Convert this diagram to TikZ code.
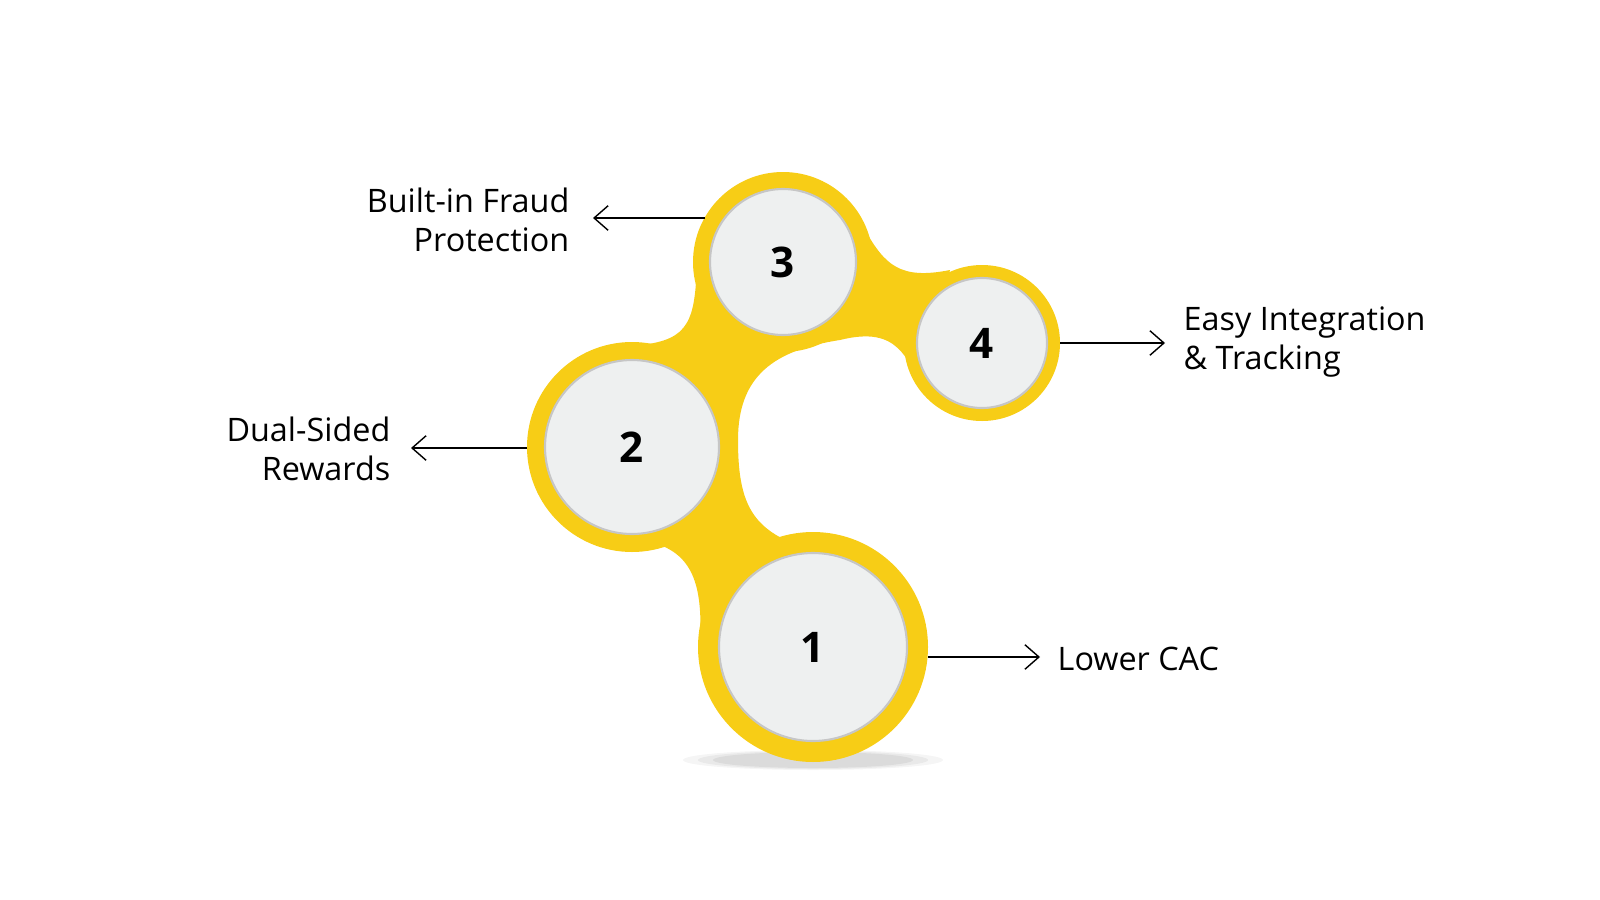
\documentclass[tikz,border=0pt]{standalone}
\usepackage{fontspec}
\setmainfont{Open Sans}
\usetikzlibrary{arrows.meta}
\definecolor{ylw}{HTML}{F7CD16}
\definecolor{disc}{HTML}{EEF0F0}
\tikzset{
  lbl/.style={font=\fontsize{9.2pt}{11.2pt}\selectfont, inner sep=0pt},
  num/.style={font=\fontsize{12pt}{13pt}\selectfont\bfseries, inner sep=0pt},
  arr/.style={-{Straight Barb[length=4pt,width=7pt]}, line width=0.4pt, black},
  inner/.style={fill=disc, draw=gray!45, line width=0.6pt}
}
\begin{document}
\begin{tikzpicture}[x=0.01cm,y=-0.01cm]
\useasboundingbox (0,0) rectangle (1600,900);
% shadow
\foreach \o in {0.04,0.05,0.06}{\fill[black,opacity=\o] (813,760) ellipse ({190-\o*1500} and {14-\o*100});}
% connecting body
\fill[ylw] (697,262) .. controls (695,320) and (690,340) .. (640,345)
  -- (640,500) -- (660,545) .. controls (700,560) and (702,600) .. (700,650)
  -- (850,560) .. controls (760,540) and (738,520) .. (738,440)
  .. controls (738,375) and (775,350) .. (840,340)
  .. controls (900,325) and (905,360) .. (925,388)
  -- (950,270) .. controls (900,280) and (885,265) .. (865,230) -- cycle;
% yellow discs
\fill[ylw] (783,262) circle (90);
\fill[ylw] (982,343) circle (78);
\fill[ylw] (632,447) circle (105);
\fill[ylw] (813,647) circle (115);
% white discs
\draw[inner] (783,262) circle (73);
\draw[inner] (982,343) circle (65);
\draw[inner] (632,447) circle (87);
\draw[inner] (813,647) circle (94);
\node[num] (c3) at (783,262) {3};
\node[num] (c4) at (982,343) {4};
\node[num] (c2) at (632,447) {2};
\node[num] (c1) at (813,647) {1};
% arrow anchors
\coordinate (a3) at (705,218);
\coordinate (a2) at (527,448);
\coordinate (a4) at (1060,343);
\coordinate (a1) at (928,657);
\node[lbl,anchor=east,align=right] (t3) at (570,220) {Built-in Fraud\\Protection};
\node[lbl,anchor=east,align=right] (t2) at (391,449) {Dual-Sided\\Rewards};
\node[lbl,anchor=west,align=left] (t4) at (1183,342) {Easy Integration\\\& Tracking};
\node[lbl,anchor=west] (t1) at (1057,659) {Lower CAC};
\draw[arr] (a3) -- (593,218);
\draw[arr] (a2) -- (411,448);
\draw[arr] (a4) -- (1165,343);
\draw[arr] (a1) -- (1040,657);
\end{tikzpicture}
\end{document}
